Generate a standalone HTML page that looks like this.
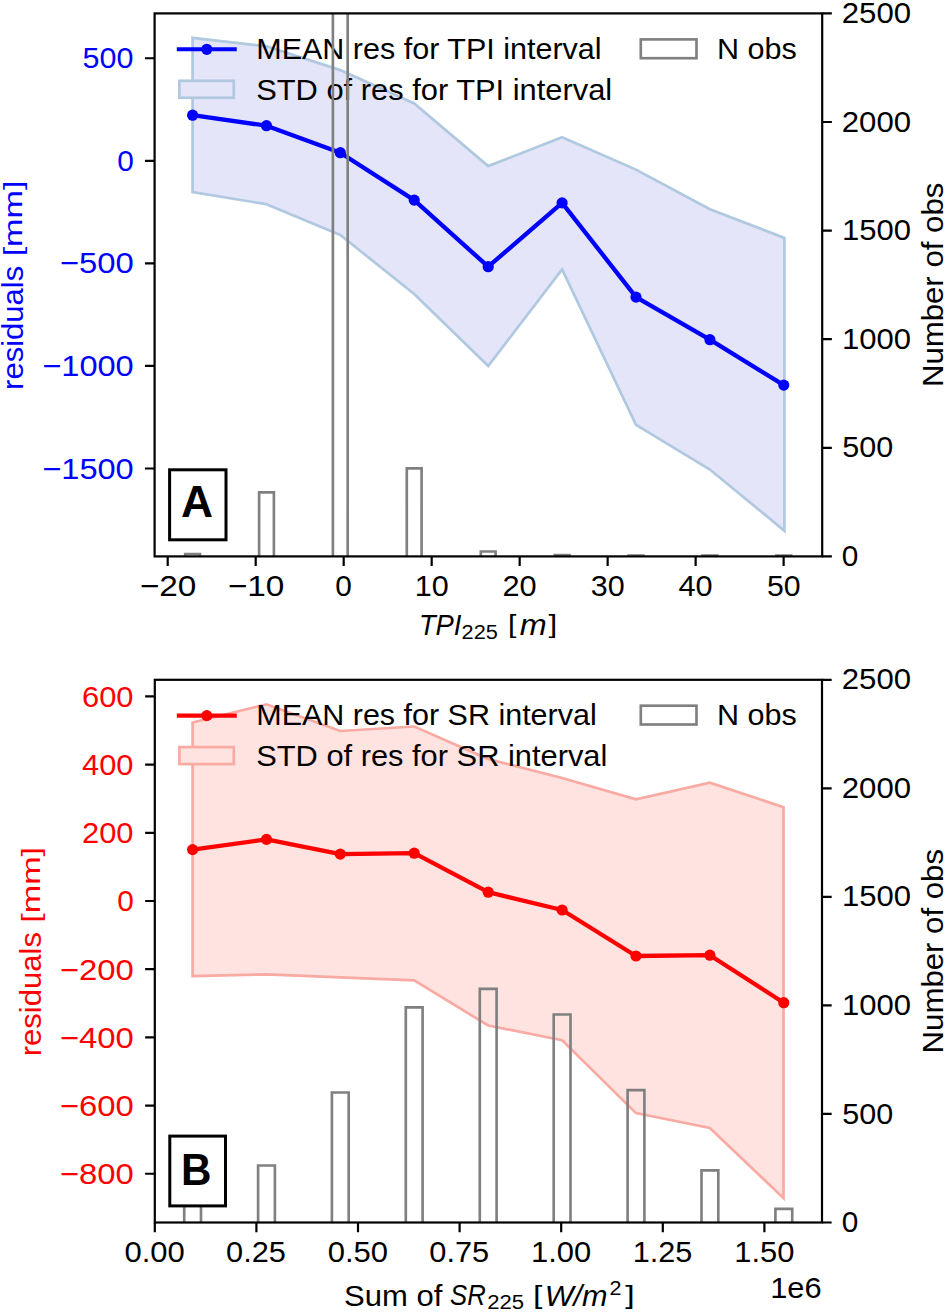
<!DOCTYPE html>
<html><head><meta charset="utf-8"><title>Residuals chart</title>
<style>html,body{margin:0;padding:0;background:#fff;} svg{display:block;} text{font-family:"Liberation Sans",sans-serif;white-space:pre;}</style>
</head><body>
<svg width="946" height="1315" viewBox="0 0 946 1315">
<rect width="946" height="1315" fill="#fff"/>
<polygon points="192.60,37.80 266.50,46.30 340.30,70.10 414.20,103.50 488.20,166.10 562.10,137.30 636.00,169.60 709.90,209.30 784.40,237.90 784.40,530.80 709.90,469.50 636.00,424.90 562.10,269.40 488.20,366.00 414.20,294.00 340.30,234.90 266.50,204.20 192.60,192.20" fill="#e4e5f9" stroke="#b0c8e0" stroke-width="2.7" stroke-linejoin="miter"/>
<polyline points="192.60,115.20 266.50,125.70 340.30,152.70 414.20,200.10 488.20,266.70 562.10,202.90 636.00,297.10 709.90,339.70 783.80,385.10" fill="none" stroke="#0000ff" stroke-width="4.3" stroke-linejoin="round" stroke-linecap="butt"/>
<circle cx="192.6" cy="115.2" r="5.6" fill="#0000ff"/>
<circle cx="266.5" cy="125.7" r="5.6" fill="#0000ff"/>
<circle cx="340.3" cy="152.7" r="5.6" fill="#0000ff"/>
<circle cx="414.2" cy="200.1" r="5.6" fill="#0000ff"/>
<circle cx="488.2" cy="266.7" r="5.6" fill="#0000ff"/>
<circle cx="562.1" cy="202.9" r="5.6" fill="#0000ff"/>
<circle cx="636.0" cy="297.1" r="5.6" fill="#0000ff"/>
<circle cx="709.9" cy="339.7" r="5.6" fill="#0000ff"/>
<circle cx="783.8" cy="385.1" r="5.6" fill="#0000ff"/>
<line x1="176.8" y1="49.3" x2="236.8" y2="49.3" stroke="#0000ff" stroke-width="4.1"/>
<circle cx="206.8" cy="49.3" r="5.6" fill="#0000ff"/>
<rect x="179.4" y="80.8" width="54.4" height="17.0" fill="#e4e5f9" stroke="#b0c8e0" stroke-width="2.7"/>
<rect x="640.8" y="39.4" width="55.7" height="18.8" fill="none" stroke="#808080" stroke-width="2.66"/>
<text x="256.26" y="59.10" textLength="345.32" lengthAdjust="spacingAndGlyphs" font-size="29.26" fill="#000">MEAN res for TPI interval</text>
<text x="256.19" y="99.90" textLength="356.02" lengthAdjust="spacingAndGlyphs" font-size="29.26" fill="#000">STD of res for TPI interval</text>
<text x="717.06" y="59.00" textLength="79.79" lengthAdjust="spacingAndGlyphs" font-size="29.26" fill="#000">N obs</text>
<clipPath id="cA"><rect x="154.6" y="13.4" width="667.6" height="543.0"/></clipPath>
<g clip-path="url(#cA)" fill="none" stroke="#808080" stroke-width="2.66">
<path d="M185.20,558.4 V554.00 H200.00 V558.4"/>
<path d="M259.10,558.4 V492.40 H273.90 V558.4"/>
<path d="M332.90,558.4 V-50.00 H347.70 V558.4"/>
<path d="M406.80,558.4 V468.40 H421.60 V558.4"/>
<path d="M480.80,558.4 V551.50 H495.60 V558.4"/>
<path d="M554.70,558.4 V555.20 H569.50 V558.4"/>
<path d="M628.60,558.4 V555.50 H643.40 V558.4"/>
<path d="M702.50,558.4 V555.50 H717.30 V558.4"/>
<path d="M776.40,558.4 V555.50 H791.20 V558.4"/>
</g>
<rect x="169.6" y="469.8" width="56.400000000000006" height="69.99999999999994" fill="#fff" stroke="#000" stroke-width="3.0"/>
<rect x="154.6" y="13.4" width="667.6" height="543.0" fill="none" stroke="#000" stroke-width="2.2" stroke-linejoin="miter"/>
<polygon points="192.60,722.50 266.50,704.30 340.30,731.00 414.20,726.50 488.20,759.00 562.10,778.00 636.00,799.30 709.90,782.70 783.50,807.10 783.50,1198.20 709.90,1127.90 636.00,1113.10 562.10,1040.20 488.20,1025.50 414.20,980.40 340.30,977.30 266.50,974.40 192.60,976.20" fill="#ffe3e0" stroke="#f8aaa3" stroke-width="2.7" stroke-linejoin="miter"/>
<polyline points="192.60,849.60 266.50,839.40 340.30,854.10 414.20,853.20 488.20,892.20 562.10,910.00 636.00,956.00 709.90,955.20 783.80,1002.70" fill="none" stroke="#ff0000" stroke-width="4.3" stroke-linejoin="round" stroke-linecap="butt"/>
<circle cx="192.6" cy="849.6" r="5.6" fill="#ff0000"/>
<circle cx="266.5" cy="839.4" r="5.6" fill="#ff0000"/>
<circle cx="340.3" cy="854.1" r="5.6" fill="#ff0000"/>
<circle cx="414.2" cy="853.2" r="5.6" fill="#ff0000"/>
<circle cx="488.2" cy="892.2" r="5.6" fill="#ff0000"/>
<circle cx="562.1" cy="910.0" r="5.6" fill="#ff0000"/>
<circle cx="636.0" cy="956.0" r="5.6" fill="#ff0000"/>
<circle cx="709.9" cy="955.2" r="5.6" fill="#ff0000"/>
<circle cx="783.8" cy="1002.7" r="5.6" fill="#ff0000"/>
<line x1="176.8" y1="715.5999999999999" x2="236.8" y2="715.5999999999999" stroke="#ff0000" stroke-width="4.1"/>
<circle cx="206.8" cy="715.5999999999999" r="5.6" fill="#ff0000"/>
<rect x="179.4" y="747.0999999999999" width="54.4" height="17.0" fill="#ffe3e0" stroke="#f8aaa3" stroke-width="2.7"/>
<rect x="640.8" y="705.6999999999999" width="55.7" height="18.8" fill="none" stroke="#808080" stroke-width="2.66"/>
<text x="256.26" y="725.40" textLength="340.42" lengthAdjust="spacingAndGlyphs" font-size="29.26" fill="#000">MEAN res for SR interval</text>
<text x="256.19" y="766.20" textLength="351.12" lengthAdjust="spacingAndGlyphs" font-size="29.26" fill="#000">STD of res for SR interval</text>
<text x="717.06" y="725.30" textLength="79.79" lengthAdjust="spacingAndGlyphs" font-size="29.26" fill="#000">N obs</text>
<clipPath id="cB"><rect x="154.8" y="679.8" width="667.2" height="542.7"/></clipPath>
<g clip-path="url(#cB)" fill="none" stroke="#808080" stroke-width="2.66">
<path d="M184.20,1224.5 V1175.00 H201.00 V1224.5"/>
<path d="M258.10,1224.5 V1165.50 H274.90 V1224.5"/>
<path d="M331.90,1224.5 V1092.50 H348.70 V1224.5"/>
<path d="M405.80,1224.5 V1007.40 H422.60 V1224.5"/>
<path d="M479.80,1224.5 V988.80 H496.60 V1224.5"/>
<path d="M553.70,1224.5 V1014.50 H570.50 V1224.5"/>
<path d="M627.60,1224.5 V1090.20 H644.40 V1224.5"/>
<path d="M701.50,1224.5 V1170.40 H718.30 V1224.5"/>
<path d="M775.40,1224.5 V1208.80 H792.20 V1224.5"/>
</g>
<rect x="169.8" y="1136.1" width="55.69999999999999" height="69.80000000000018" fill="#fff" stroke="#000" stroke-width="3.0"/>
<rect x="154.8" y="679.8" width="667.2" height="542.7" fill="none" stroke="#000" stroke-width="2.2" stroke-linejoin="miter"/>
<path d="M144.94,58.24H154.60 M144.94,160.80H154.60 M144.94,263.37H154.60 M144.94,365.93H154.60 M144.94,468.50H154.60 M822.20,556.40H831.86 M822.20,447.80H831.86 M822.20,339.20H831.86 M822.20,230.60H831.86 M822.20,122.00H831.86 M822.20,13.40H831.86 M822.00,1222.50H831.66 M822.00,1113.96H831.66 M822.00,1005.42H831.66 M822.00,896.88H831.66 M822.00,788.34H831.66 M822.00,679.80H831.66 M167.70,556.40V566.06 M255.69,556.40V566.06 M343.68,556.40V566.06 M431.67,556.40V566.06 M519.66,556.40V566.06 M607.65,556.40V566.06 M695.64,556.40V566.06 M783.63,556.40V566.06 M145.14,696.44H154.80 M145.14,764.63H154.80 M145.14,832.81H154.80 M145.14,901.00H154.80 M145.14,969.19H154.80 M145.14,1037.37H154.80 M145.14,1105.56H154.80 M145.14,1173.74H154.80 M154.80,1222.50V1232.16 M256.40,1222.50V1232.16 M358.00,1222.50V1232.16 M459.60,1222.50V1232.16 M561.20,1222.50V1232.16 M662.80,1222.50V1232.16 M764.40,1222.50V1232.16" stroke="#000" stroke-width="2.2" fill="none"/>
<text x="82.57" y="68.34" textLength="50.92" lengthAdjust="spacingAndGlyphs" font-size="29.26" fill="#0000ff">500</text>
<text x="117.21" y="170.90" textLength="16.58" lengthAdjust="spacingAndGlyphs" font-size="29.26" fill="#0000ff">0</text>
<text x="59.80" y="273.47" textLength="74.00" lengthAdjust="spacingAndGlyphs" font-size="29.26" fill="#0000ff">−500</text>
<text x="42.26" y="376.03" textLength="91.49" lengthAdjust="spacingAndGlyphs" font-size="29.26" fill="#0000ff">−1000</text>
<text x="42.26" y="478.60" textLength="91.49" lengthAdjust="spacingAndGlyphs" font-size="29.26" fill="#0000ff">−1500</text>
<text x="841.87" y="566.00" textLength="16.58" lengthAdjust="spacingAndGlyphs" font-size="29.26" fill="#000">0</text>
<text x="842.34" y="457.40" textLength="50.92" lengthAdjust="spacingAndGlyphs" font-size="29.26" fill="#000">500</text>
<text x="842.01" y="348.80" textLength="69.05" lengthAdjust="spacingAndGlyphs" font-size="29.26" fill="#000">1000</text>
<text x="842.01" y="240.20" textLength="69.05" lengthAdjust="spacingAndGlyphs" font-size="29.26" fill="#000">1500</text>
<text x="841.80" y="131.60" textLength="69.26" lengthAdjust="spacingAndGlyphs" font-size="29.26" fill="#000">2000</text>
<text x="841.80" y="23.00" textLength="69.26" lengthAdjust="spacingAndGlyphs" font-size="29.26" fill="#000">2500</text>
<text x="841.87" y="1232.10" textLength="16.58" lengthAdjust="spacingAndGlyphs" font-size="29.26" fill="#000">0</text>
<text x="842.34" y="1123.56" textLength="50.92" lengthAdjust="spacingAndGlyphs" font-size="29.26" fill="#000">500</text>
<text x="842.01" y="1015.02" textLength="69.05" lengthAdjust="spacingAndGlyphs" font-size="29.26" fill="#000">1000</text>
<text x="842.01" y="906.48" textLength="69.05" lengthAdjust="spacingAndGlyphs" font-size="29.26" fill="#000">1500</text>
<text x="841.80" y="797.94" textLength="69.26" lengthAdjust="spacingAndGlyphs" font-size="29.26" fill="#000">2000</text>
<text x="841.80" y="689.40" textLength="69.26" lengthAdjust="spacingAndGlyphs" font-size="29.26" fill="#000">2500</text>
<text x="139.86" y="595.80" textLength="56.52" lengthAdjust="spacingAndGlyphs" font-size="29.26" fill="#000">−20</text>
<text x="227.85" y="595.80" textLength="56.52" lengthAdjust="spacingAndGlyphs" font-size="29.26" fill="#000">−10</text>
<text x="335.37" y="595.80" textLength="16.58" lengthAdjust="spacingAndGlyphs" font-size="29.26" fill="#000">0</text>
<text x="414.75" y="595.80" textLength="33.96" lengthAdjust="spacingAndGlyphs" font-size="29.26" fill="#000">10</text>
<text x="502.51" y="595.80" textLength="34.20" lengthAdjust="spacingAndGlyphs" font-size="29.26" fill="#000">20</text>
<text x="590.78" y="595.80" textLength="33.91" lengthAdjust="spacingAndGlyphs" font-size="29.26" fill="#000">30</text>
<text x="678.53" y="595.80" textLength="34.16" lengthAdjust="spacingAndGlyphs" font-size="29.26" fill="#000">40</text>
<text x="767.02" y="595.80" textLength="33.64" lengthAdjust="spacingAndGlyphs" font-size="29.26" fill="#000">50</text>
<text x="82.04" y="706.84" textLength="51.47" lengthAdjust="spacingAndGlyphs" font-size="29.26" fill="#ff0000">600</text>
<text x="82.08" y="775.03" textLength="51.42" lengthAdjust="spacingAndGlyphs" font-size="29.26" fill="#ff0000">400</text>
<text x="82.04" y="843.21" textLength="51.47" lengthAdjust="spacingAndGlyphs" font-size="29.26" fill="#ff0000">200</text>
<text x="117.21" y="911.40" textLength="16.58" lengthAdjust="spacingAndGlyphs" font-size="29.26" fill="#ff0000">0</text>
<text x="59.80" y="979.59" textLength="74.00" lengthAdjust="spacingAndGlyphs" font-size="29.26" fill="#ff0000">−200</text>
<text x="59.80" y="1047.77" textLength="74.00" lengthAdjust="spacingAndGlyphs" font-size="29.26" fill="#ff0000">−400</text>
<text x="59.80" y="1115.96" textLength="74.00" lengthAdjust="spacingAndGlyphs" font-size="29.26" fill="#ff0000">−600</text>
<text x="59.80" y="1184.14" textLength="74.00" lengthAdjust="spacingAndGlyphs" font-size="29.26" fill="#ff0000">−800</text>
<text x="124.49" y="1262.10" textLength="60.35" lengthAdjust="spacingAndGlyphs" font-size="29.26" fill="#000">0.00</text>
<text x="226.10" y="1262.10" textLength="59.82" lengthAdjust="spacingAndGlyphs" font-size="29.26" fill="#000">0.25</text>
<text x="327.69" y="1262.10" textLength="60.35" lengthAdjust="spacingAndGlyphs" font-size="29.26" fill="#000">0.50</text>
<text x="429.30" y="1262.10" textLength="59.82" lengthAdjust="spacingAndGlyphs" font-size="29.26" fill="#000">0.75</text>
<text x="531.09" y="1262.10" textLength="60.15" lengthAdjust="spacingAndGlyphs" font-size="29.26" fill="#000">1.00</text>
<text x="632.71" y="1262.10" textLength="59.61" lengthAdjust="spacingAndGlyphs" font-size="29.26" fill="#000">1.25</text>
<text x="734.29" y="1262.10" textLength="60.15" lengthAdjust="spacingAndGlyphs" font-size="29.26" fill="#000">1.50</text>
<text x="-389.95" y="22.90" textLength="124.21" lengthAdjust="spacingAndGlyphs" font-size="29.26" fill="#0000ff" transform="rotate(-90)">residuals</text>
<text x="-256.38" y="22.27" textLength="75.73" lengthAdjust="spacingAndGlyphs" font-size="26.55" fill="#0000ff" transform="rotate(-90)">[mm]</text>
<text x="-1056.25" y="40.80" textLength="124.21" lengthAdjust="spacingAndGlyphs" font-size="29.26" fill="#ff0000" transform="rotate(-90)">residuals</text>
<text x="-922.68" y="40.17" textLength="75.73" lengthAdjust="spacingAndGlyphs" font-size="26.55" fill="#ff0000" transform="rotate(-90)">[mm]</text>
<text x="-387.10" y="942.80" textLength="204.40" lengthAdjust="spacingAndGlyphs" font-size="29.26" fill="#000" transform="rotate(-90)">Number of obs</text>
<text x="-1053.40" y="942.80" textLength="204.40" lengthAdjust="spacingAndGlyphs" font-size="29.26" fill="#000" transform="rotate(-90)">Number of obs</text>
<text x="418.91" y="635.00" textLength="42.55" lengthAdjust="spacingAndGlyphs" font-size="29.26" fill="#000" font-style="italic">TPI</text>
<text x="461.60" y="638.50" textLength="36.24" lengthAdjust="spacingAndGlyphs" font-size="20.46" fill="#000">225</text>
<text x="508.12" y="633.10" textLength="8.35" lengthAdjust="spacingAndGlyphs" font-size="25.90" fill="#000">[</text>
<text x="519.71" y="635.00" textLength="26.95" lengthAdjust="spacingAndGlyphs" font-size="29.26" fill="#000" font-style="italic">m</text>
<text x="548.40" y="633.10" textLength="8.73" lengthAdjust="spacingAndGlyphs" font-size="25.90" fill="#000">]</text>
<text x="344.08" y="1305.50" textLength="98.27" lengthAdjust="spacingAndGlyphs" font-size="29.26" fill="#000">Sum of</text>
<text x="450.11" y="1305.40" textLength="35.68" lengthAdjust="spacingAndGlyphs" font-size="29.26" fill="#000" font-style="italic">SR</text>
<text x="487.18" y="1309.30" textLength="36.88" lengthAdjust="spacingAndGlyphs" font-size="20.46" fill="#000">225</text>
<text x="533.06" y="1303.69" textLength="9.34" lengthAdjust="spacingAndGlyphs" font-size="26.44" fill="#000">[</text>
<text x="544.65" y="1305.50" textLength="63.01" lengthAdjust="spacingAndGlyphs" font-size="29.26" fill="#000" font-style="italic">W/m</text>
<text x="609.61" y="1294.50" textLength="12.01" lengthAdjust="spacingAndGlyphs" font-size="20.46" fill="#000">2</text>
<text x="625.16" y="1303.69" textLength="9.47" lengthAdjust="spacingAndGlyphs" font-size="26.44" fill="#000">]</text>
<text x="770.20" y="1297.70" textLength="51.42" lengthAdjust="spacingAndGlyphs" font-size="29.26" fill="#000">1e6</text>
<text x="181.11" y="517.32" textLength="32.02" lengthAdjust="spacingAndGlyphs" font-size="43.74" fill="#000" font-weight="bold">A</text>
<text x="181.09" y="1185.12" textLength="30.49" lengthAdjust="spacingAndGlyphs" font-size="43.88" fill="#000" font-weight="bold">B</text>
</svg>
</body></html>
